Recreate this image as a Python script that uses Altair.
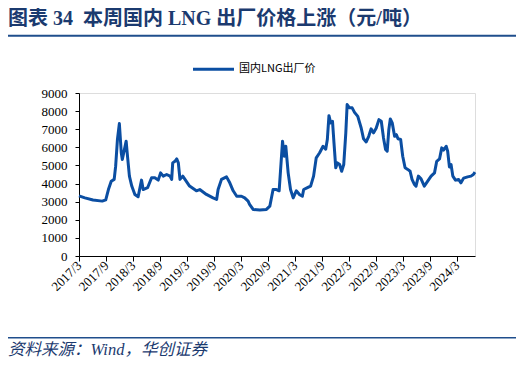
import altair as alt
import pandas as pd

dates = [
    "2017-03-01", "2017-04-10", "2017-06-04", "2017-08-05", "2017-08-29", "2017-09-16",
    "2017-10-05", "2017-10-25", "2017-11-04", "2017-11-16", "2017-11-29", "2017-12-12",
    "2017-12-19", "2018-01-14", "2018-01-21", "2018-02-05", "2018-02-21", "2018-03-14",
    "2018-04-05", "2018-04-28", "2018-05-09", "2018-06-08", "2018-07-05", "2018-07-27",
    "2018-08-19", "2018-09-04", "2018-09-22", "2018-10-15", "2018-11-07", "2018-11-18",
    "2018-11-25", "2018-12-10", "2018-12-22", "2019-01-02", "2019-01-13", "2019-02-01",
    "2019-02-16", "2019-03-19", "2019-05-04", "2019-05-27", "2019-07-11", "2019-08-25",
    "2019-09-18", "2019-09-28", "2019-10-21", "2019-11-24", "2019-12-16", "2020-01-08",
    "2020-02-01", "2020-03-04", "2020-03-26", "2020-04-18", "2020-04-28", "2020-05-22",
    "2020-07-06", "2020-08-20", "2020-09-12", "2020-10-04", "2020-10-27", "2020-11-14",
    "2020-12-07", "2020-12-18", "2020-12-29", "2021-01-14", "2021-01-30", "2021-02-17",
    "2021-03-10", "2021-04-02", "2021-04-20", "2021-04-29", "2021-05-28", "2021-06-15",
    "2021-07-05", "2021-07-23", "2021-08-15", "2021-09-07", "2021-09-25", "2021-10-06",
    "2021-10-17", "2021-10-29", "2021-11-10", "2021-11-20", "2021-12-02", "2021-12-13",
    "2021-12-28", "2022-01-11", "2022-01-25", "2022-02-08", "2022-02-17", "2022-03-05",
    "2022-03-23", "2022-04-08", "2022-04-30", "2022-05-23", "2022-06-08", "2022-06-26",
    "2022-07-13", "2022-07-29", "2022-08-15", "2022-09-02", "2022-09-20", "2022-10-06",
    "2022-10-21", "2022-11-04", "2022-11-15", "2022-11-26", "2022-12-06", "2022-12-19",
    "2023-01-04", "2023-01-16", "2023-01-27", "2023-02-14", "2023-02-28", "2023-03-16",
    "2023-04-03", "2023-04-19", "2023-05-02", "2023-05-18", "2023-05-29", "2023-06-14",
    "2023-07-02", "2023-07-24", "2023-08-16", "2023-09-08", "2023-10-01", "2023-10-16",
    "2023-11-04", "2023-11-19", "2023-12-01", "2023-12-19", "2023-12-29", "2024-01-10",
    "2024-01-21", "2024-02-02", "2024-02-20", "2024-03-12", "2024-03-28", "2024-04-15",
    "2024-05-12", "2024-06-04", "2024-06-20", "2024-07-01",
]
prices = [
    3320, 3210, 3090, 3030, 3100, 3670,
    4130, 4230, 4960, 6430, 7310, 5700,
    5330, 6340, 5700, 4410, 3860, 3400,
    3270, 4190, 3670, 3770, 4320, 4320,
    4190, 4590, 4410, 4500, 4410, 4230,
    5140, 5230, 5360, 5140, 4230, 4410,
    4230, 3860, 3600, 3670, 3400, 3210,
    3120, 3670, 4230, 4370, 4040, 3600,
    3300, 3300, 3210, 3030, 2850, 2570,
    2540, 2570, 2750, 3670, 3670, 3600,
    6340, 5510, 6060, 4590, 3670, 3210,
    3600, 3380, 3300, 3670, 3790, 3860,
    4410, 5420, 5700, 6060, 5900, 6430,
    7750, 7350, 7440, 6250, 4870, 5140,
    5050, 4680, 5050, 6800, 8360, 8180,
    8180, 7930, 7710, 7070, 6470, 6300,
    6610, 7020, 6800, 7070, 7530, 7440,
    6520, 5880, 5790, 6980, 7570, 7350,
    6610, 6700, 6470, 6430, 5510, 4870,
    4780, 4680, 4230, 3950, 3860, 4410,
    4260, 3860, 4130, 4410, 4590, 5230,
    5360, 5970, 5850, 6060, 5790, 4920,
    5050, 4410, 4190, 4230, 4040, 4300,
    4370, 4410, 4500, 4630,
]

series_name = "国内LNG出厂价"
title_text = "图表 34\u2002本周国内 LNG 出厂价格上涨（元/吨）"
source_text = "资料来源：Wind，华创证券"
tick_years_months = [(2017 + (i // 2), 3 if i % 2 == 0 else 9) for i in range(15)]
y_ticks = [0, 1000, 2000, 3000, 4000, 5000, 6000, 7000, 8000, 9000]

LINE_COLOR = "#0B4EA2"
NAVY = "#1B3A6F"
RULE_BLUE = "#1F4E8C"

W, H = 396, 163

df = pd.DataFrame({"date": dates, "price": prices})
one = pd.DataFrame({"k": [0]})

x_values = [alt.DateTime(year=y, month=m, date=1, utc=True) for y, m in tick_years_months]

line = alt.Chart(df).mark_line(color=LINE_COLOR, strokeWidth=3, strokeJoin="round").encode(
    x=alt.X(
        "date:T",
        scale=alt.Scale(
            type="utc",
            domain=[alt.DateTime(year=2017, month=3, date=1, utc=True),
                    alt.DateTime(year=2024, month=7, date=1, utc=True)],
            nice=False,
        ),
        axis=alt.Axis(
            values=x_values,
            labelExpr="utcFormat(datum.value, '%Y') + '/' + (utcmonth(datum.value) + 1)",
            labelAngle=-45,
            labelAlign="right",
            labelBaseline="middle",
            labelPadding=2,
            tickSize=5,
            title=None,
            grid=False,
            labelFont="Liberation Serif",
            labelFontSize=13,
            labelColor="#000000",
            domainColor="#000000",
            tickColor="#000000",
            labelOverlap=False,
        ),
    ),
    y=alt.Y(
        "price:Q",
        scale=alt.Scale(domain=[0, 9000], nice=False),
        axis=alt.Axis(
            values=y_ticks,
            format="d",
            tickSize=4,
            labelPadding=8,
            title=None,
            grid=False,
            labelFont="Liberation Serif",
            labelFontSize=13,
            labelColor="#000000",
            domainColor="#000000",
            tickColor="#000000",
        ),
    ),
)

title = alt.Chart(one).mark_text(
    align="left", baseline="alphabetic", font="Liberation Serif, Noto Sans CJK SC",
    fontSize=20, fontWeight="bold", color=NAVY,
).encode(x=alt.value(-71), y=alt.value(-68.5), text=alt.value(title_text))

title_rule = alt.Chart(one).mark_rule(color=RULE_BLUE, strokeWidth=2).encode(
    x=alt.value(-74), x2=alt.value(437), y=alt.value(-57.3)
)

legend_line = alt.Chart(one).mark_rule(color=LINE_COLOR, strokeWidth=3).encode(
    x=alt.value(114), x2=alt.value(155), y=alt.value(-23.7)
)
legend_text = alt.Chart(one).mark_text(
    align="left", baseline="middle", font="Noto Sans CJK SC", fontSize=11, color="#000000",
).encode(x=alt.value(160), y=alt.value(-23.7), text=alt.value(series_name))

source_rule = alt.Chart(one).mark_rule(color=RULE_BLUE, strokeWidth=1.5).encode(
    x=alt.value(-74), x2=alt.value(437), y=alt.value(244.7)
)
source = alt.Chart(one).mark_text(
    align="left", baseline="alphabetic", font="Liberation Serif, Noto Sans CJK SC",
    fontSize=16.5, fontStyle="italic", color=NAVY,
).encode(x=alt.value(-71), y=alt.value(262), text=alt.value(source_text))

chart = alt.layer(
    line, title, title_rule, legend_line, legend_text, source_rule, source
).properties(
    width=W, height=H,
    autosize=alt.AutoSizeParams(type="none"),
    padding={"left": 71, "top": 85, "right": 41, "bottom": 102},
).configure_view(stroke=None).configure(background="#ffffff")

chart.save("out.html", embed_options={"renderer": "svg", "actions": False})
